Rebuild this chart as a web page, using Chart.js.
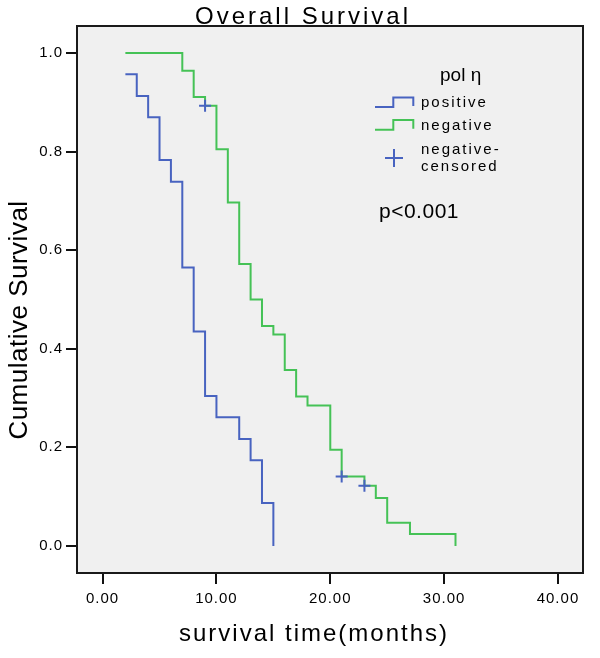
<!DOCTYPE html>
<html>
<head>
<meta charset="utf-8">
<script src="https://cdn.jsdelivr.net/npm/chart.js@4.4.1/dist/chart.umd.min.js"></script>
<style>
  html, body { margin: 0; padding: 0; background: #fff; }
</style>
</head>
<body>
<canvas id="km" width="600" height="658"></canvas>
<script>
// Kaplan-Meier steps
var positiveTime = [2, 3, 4, 5, 6, 7, 8, 9, 10, 12, 13, 14, 15];
var positiveSurv = [0.957, 0.913, 0.870, 0.783, 0.739, 0.565, 0.435, 0.304, 0.261, 0.217, 0.174, 0.087, 0.0];
var negativeTime = [2, 7, 8, 9, 10, 11, 12, 13, 14, 15, 16, 17, 18, 20, 21, 23, 24, 25, 27, 31];
var negativeSurv = [1.0, 0.964, 0.911, 0.893, 0.805, 0.697, 0.572, 0.500, 0.446, 0.429, 0.357, 0.303, 0.285, 0.195, 0.141, 0.122, 0.097, 0.047, 0.024, 0.0];
var censorTime = [9, 21, 23];
var censorSurv = [0.893, 0.141, 0.122];

var xTickValues = [0, 10, 20, 30, 40];
var xTickLabels = ['0.00', '10.00', '20.00', '30.00', '40.00'];
var yTickValues = [0, 0.2, 0.4, 0.6, 0.8, 1.0];
var yTickLabels = ['0.0', '0.2', '0.4', '0.6', '0.8', '1.0'];

var legendTitle = 'pol η';
var legendLabels = ['positive', 'negative', ['negative-', 'censored']];
var pText = 'p<0.001';

var BLUE = '#4863c0';
var GREEN = '#45c256';
var FONT = '"Liberation Sans", Arial, sans-serif';

function toPoints(xs, ys) {
  return xs.map(function (x, i) { return { x: x, y: ys[i] }; });
}

var framePlugin = {
  id: 'frame',
  beforeDraw: function (chart) {
    var a = chart.chartArea, ctx = chart.ctx;
    ctx.save();
    ctx.fillStyle = '#f0f0f0';
    ctx.fillRect(a.left, a.top, a.right - a.left, a.bottom - a.top);
    ctx.restore();
    // SPSS-like loose spacing on the tick labels
    ctx.letterSpacing = '1px';
  },
  afterDraw: function (chart) {
    var a = chart.chartArea, ctx = chart.ctx;
    ctx.letterSpacing = '0px';
    ctx.save();
    // box
    ctx.strokeStyle = '#1a1a1a';
    ctx.lineWidth = 2;
    ctx.strokeRect(a.left, a.top, a.right - a.left, a.bottom - a.top);

    ctx.fillStyle = '#000';
    ctx.textAlign = 'left';
    ctx.textBaseline = 'alphabetic';
    // chart title
    ctx.font = '24px ' + FONT;
    ctx.letterSpacing = '3px';
    ctx.fillText('Overall Survival', 195, 24);

    // axis titles
    ctx.letterSpacing = '2px';
    ctx.fillText('survival time(months)', 179, 641);
    ctx.save();
    ctx.translate(27, 320);
    ctx.rotate(-Math.PI / 2);
    ctx.textAlign = 'center';
    ctx.letterSpacing = '0.5px';
    ctx.font = '26px ' + FONT;
    ctx.fillText('Cumulative Survival', 0, 0);
    ctx.restore();

    // legend
    ctx.letterSpacing = '0px';
    ctx.font = '19px ' + FONT;
    ctx.fillText(legendTitle, 440, 81);

    ctx.lineWidth = 2;
    var lx = 375, colors = [BLUE, GREEN];
    for (var i = 0; i < 2; i++) {
      var yb = 107 + i * 22.7, yt = yb - 9.6;
      ctx.strokeStyle = colors[i];
      ctx.beginPath();
      ctx.moveTo(lx, yb);
      ctx.lineTo(lx + 18.3, yb);
      ctx.lineTo(lx + 18.3, yt);
      ctx.lineTo(lx + 38.3, yt);
      ctx.lineTo(lx + 38.3, yb - 1);
      ctx.stroke();
    }
    ctx.strokeStyle = BLUE;
    ctx.beginPath();
    ctx.moveTo(385, 158); ctx.lineTo(403, 158);
    ctx.moveTo(394, 149); ctx.lineTo(394, 167);
    ctx.stroke();

    ctx.font = '15px ' + FONT;
    ctx.letterSpacing = '2px';
    ctx.textBaseline = 'middle';
    ctx.fillText(legendLabels[0], 421, 103);
    ctx.fillText(legendLabels[1], 421, 126);
    ctx.fillText(legendLabels[2][0], 421, 150);
    ctx.fillText(legendLabels[2][1], 421, 167);

    ctx.font = '21px ' + FONT;
    ctx.letterSpacing = '0.5px';
    ctx.fillText(pText, 379, 212);
    ctx.restore();
    ctx.letterSpacing = '0px';
  }
};

new Chart(document.getElementById('km'), {
  type: 'scatter',
  data: {
    datasets: [
      {
        label: 'negative-censored',
        data: toPoints(censorTime, censorSurv),
        showLine: false,
        pointStyle: 'cross',
        pointRadius: 6,
        pointBorderWidth: 2,
        borderColor: BLUE,
        backgroundColor: BLUE
      },
      {
        label: 'positive',
        data: toPoints(positiveTime, positiveSurv),
        showLine: true,
        stepped: true,
        borderColor: BLUE,
        borderWidth: 2,
        pointRadius: 0,
        fill: false
      },
      {
        label: 'negative',
        data: toPoints(negativeTime, negativeSurv),
        showLine: true,
        stepped: true,
        borderColor: GREEN,
        borderWidth: 2,
        pointRadius: 0,
        fill: false
      }
    ]
  },
  options: {
    responsive: false,
    animation: false,
    devicePixelRatio: 1,
    layout: { padding: { left: 0, top: 26, right: 17, bottom: 0 } },
    plugins: {
      legend: { display: false },
      tooltip: { enabled: false },
      title: { display: false }
    },
    scales: {
      x: {
        type: 'linear',
        min: -2.25,
        max: 42.2,
        afterBuildTicks: function (axis) {
          axis.ticks = xTickValues.map(function (v) { return { value: v }; });
        },
        afterFit: function (axis) { axis.height = 85; },
        ticks: {
          autoSkip: false,
          maxRotation: 0,
          color: '#000',
          padding: 6,
          font: { family: FONT, size: 15 },
          callback: function (v, i) { return xTickLabels[i]; }
        },
        grid: { drawOnChartArea: false, drawTicks: true, tickLength: 11, color: '#111', lineWidth: 2 },
        border: { display: false }
      },
      y: {
        type: 'linear',
        min: -0.055,
        max: 1.055,
        afterBuildTicks: function (axis) {
          axis.ticks = yTickValues.map(function (v) { return { value: v }; });
        },
        afterFit: function (axis) { axis.width = 77; },
        ticks: {
          autoSkip: false,
          color: '#000',
          padding: 3,
          font: { family: FONT, size: 15 },
          callback: function (v, i) { return yTickLabels[i]; }
        },
        grid: { drawOnChartArea: false, drawTicks: true, tickLength: 11, color: '#111', lineWidth: 2 },
        border: { display: false }
      }
    }
  },
  plugins: [framePlugin]
});
</script>
</body>
</html>
